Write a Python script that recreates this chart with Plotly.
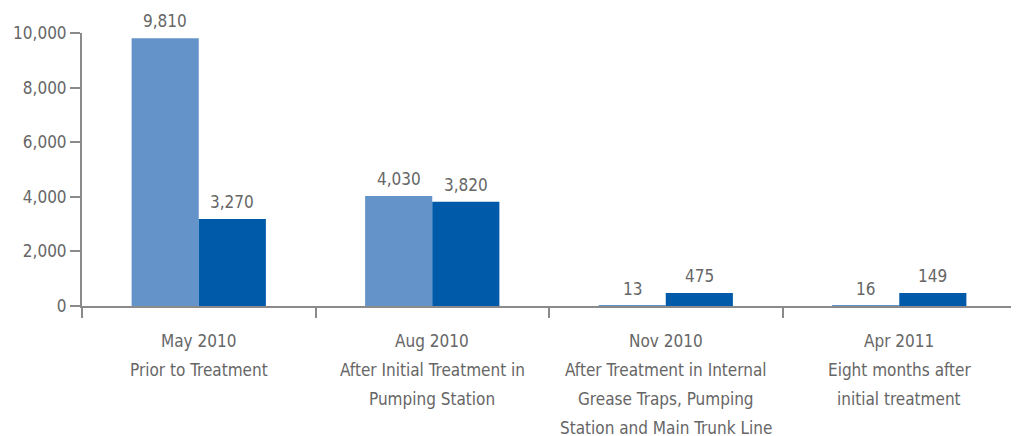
import plotly.graph_objects as go

category_lines = [
    ["May 2010", "Prior to Treatment"],
    ["Aug 2010", "After Initial Treatment in", "Pumping Station"],
    ["Nov 2010", "After Treatment in Internal", "Grease Traps, Pumping", "Station and Main Trunk Line"],
    ["Apr 2011", "Eight months after", "initial treatment"],
]
categories = ["<br>".join(c) for c in category_lines]
series_a_values = [9810, 4030, 13, 16]
series_a_labels = ["9,810", "4,030", "13", "16"]
series_b_values = [3190, 3820, 475, 475]
series_b_labels = ["3,270", "3,820", "475", "149"]
y_tick_vals = [0, 2000, 4000, 6000, 8000, 10000]
y_tick_text = ["0", "2,000", "4,000", "6,000", "8,000", "10,000"]

FONT = "DejaVu Sans Condensed, Liberation Sans Narrow, sans-serif"
GRAY = "#666666"
AXIS = "#8a8a8a"
FS = 17

fig = go.Figure()
fig.add_trace(go.Bar(x=categories, y=series_a_values, cliponaxis=False,
                     marker=dict(color="#6393C8", line=dict(width=0))))
fig.add_trace(go.Bar(x=categories, y=series_b_values, cliponaxis=False,
                     marker=dict(color="#005AAA", line=dict(width=0))))

annotations = []
BAR_HALF = 33.5
for cat, va, la, vb, lb in zip(categories, series_a_values, series_a_labels,
                               series_b_values, series_b_labels):
    for v, lab, dx in ((va, la, -BAR_HALF), (vb, lb, BAR_HALF)):
        annotations.append(dict(x=cat, y=v, xref="x", yref="y", text=lab,
                                showarrow=False, yanchor="bottom", xshift=dx, yshift=5,
                                font=dict(family=FONT, size=FS, color=GRAY)))
for cat, lines in zip(categories, category_lines):
    for i, line in enumerate(lines):
        annotations.append(dict(x=cat, y=0, xref="x", yref="paper", text=line,
                                showarrow=False, yanchor="middle",
                                yshift=-(35 + 29 * i),
                                font=dict(family=FONT, size=FS, color=GRAY)))

fig.update_layout(
    width=1019, height=436,
    margin=dict(l=74, r=11, t=25, b=138, autoexpand=False),
    barmode="group", bargap=0.425, bargroupgap=0,
    plot_bgcolor="white", paper_bgcolor="white",
    showlegend=False,
    font=dict(family=FONT, size=FS, color=GRAY),
    annotations=annotations,
    xaxis=dict(type="category", showline=True, linecolor=AXIS, linewidth=2,
               ticks="outside", tickson="boundaries", ticklen=10, tickcolor=AXIS, tickwidth=2,
               showgrid=False, showticklabels=False, automargin=False),
    yaxis=dict(range=[0, 10000], tickvals=y_tick_vals, ticktext=y_tick_text,
               showline=True, linecolor=AXIS, linewidth=2,
               ticks="outside", ticklen=10, tickcolor=AXIS, tickwidth=2,
               showgrid=False, zeroline=False, automargin=False,
               tickfont=dict(family=FONT, size=FS, color=GRAY)),
)
fig.write_html("out.html")
